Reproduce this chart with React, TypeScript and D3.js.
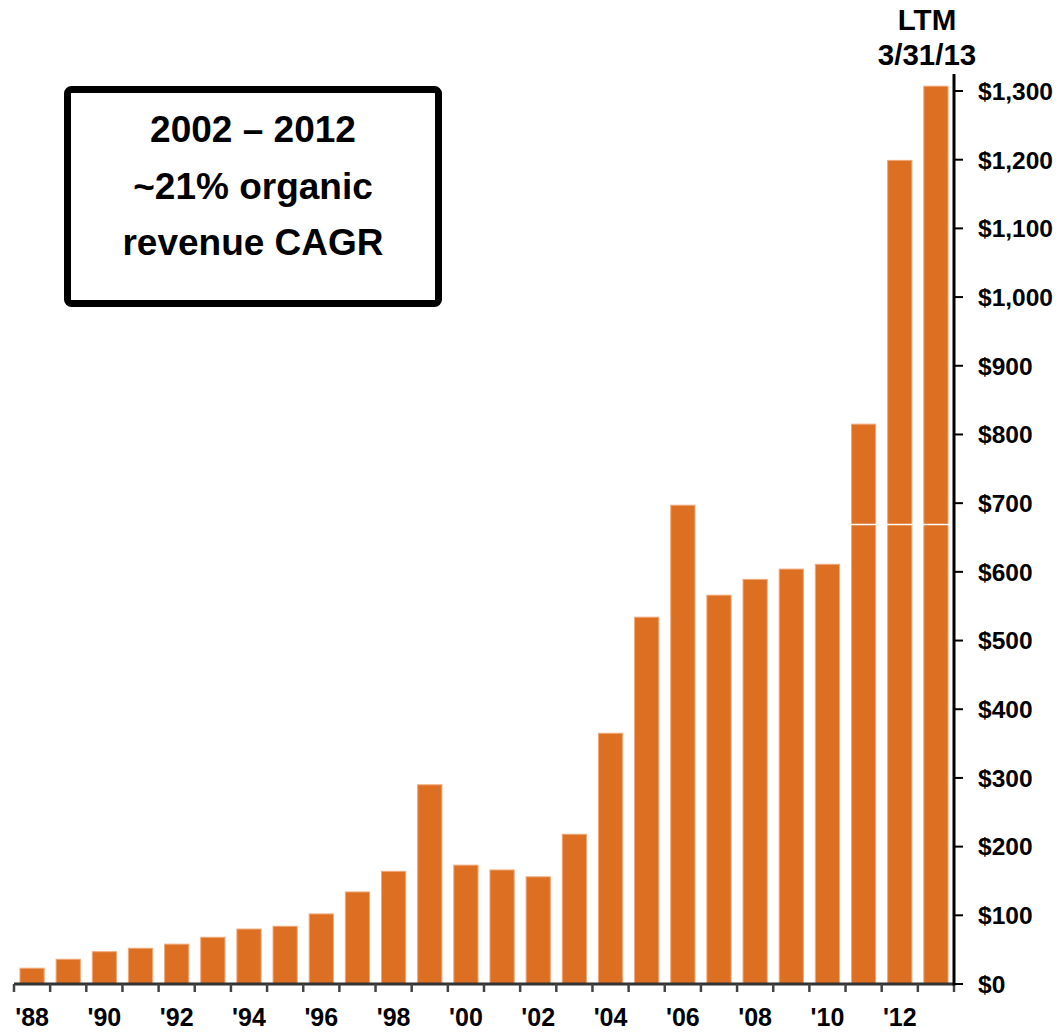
import React from "react";
import * as d3 from "d3";

const categories: string[] = [
  "1988", "1989", "1990", "1991", "1992", "1993", "1994", "1995", "1996", "1997",
  "1998", "1999", "2000", "2001", "2002", "2003", "2004", "2005", "2006", "2007",
  "2008", "2009", "2010", "2011", "2012", "LTM",
];
const revenue: number[] = [
  23, 36, 47, 52, 58, 68, 80, 84, 102, 134,
  164, 290, 173, 166, 156, 218, 365, 534, 697, 566,
  589, 604, 611, 815, 1199, 1307,
];
const xTickLabels: string[] = [
  "'88", "", "'90", "", "'92", "", "'94", "", "'96", "",
  "'98", "", "'00", "", "'02", "", "'04", "", "'06", "",
  "'08", "", "'10", "", "'12", "",
];
const yTicks: number[] = [0, 100, 200, 300, 400, 500, 600, 700, 800, 900, 1000, 1100, 1200, 1300];
const boxLines: string[] = ["2002 \u2013 2012", "~21% organic", "revenue CAGR"];
const ltmLines: string[] = ["LTM", "3/31/13"];

const W = 1062;
const H = 1032;
const FONT = "'Liberation Sans', Arial, Helvetica, sans-serif";

export default function App() {
  const pad = 0.33;
  const x = d3.scaleBand<string>().domain(categories).range([14, 954]).paddingInner(pad).paddingOuter(pad / 2);
  const y = d3.scaleLinear().domain([0, 1300]).range([984, 91]);
  const step = x.step();
  const boundaries = categories.map((c) => (x(c) as number) - (step * pad) / 2).concat([954]);
  const fmt = d3.format(",");

  return (
    <div style={{ position: "absolute", left: 0, top: 0, width: W, height: H, background: "#fff" }}>
      <svg width={W} height={H} style={{ display: "block" }} fontFamily={FONT}>
        {/* bars */}
        {categories.map((c, i) => (
          <rect
            key={c}
            x={x(c)}
            y={y(revenue[i])}
            width={x.bandwidth()}
            height={y(0) - y(revenue[i])}
            fill="#dd6f22"
            stroke="#f0a878"
            strokeWidth={1}
          />
        ))}
        {/* thin white artifact line */}
        <line x1={x("2011")! - 1} x2={957} y1={524.5} y2={524.5} stroke="#fff" strokeWidth={1.5} />
        {/* x axis */}
        <line x1={14} x2={954} y1={y(0)} y2={y(0)} stroke="#333" strokeWidth={3} />
        {boundaries.map((b, i) => (
          <line key={"t" + i} x1={b} x2={b} y1={y(0)} y2={y(0) + 8} stroke="#444" strokeWidth={2.5} />
        ))}
        {categories.map((c, i) =>
          xTickLabels[i] ? (
            <text
              key={"xl" + c}
              x={(x(c) as number) + x.bandwidth() / 2}
              y={1026}
              textAnchor="middle"
              fontSize={25}
              fontWeight="bold"
              fill="#000"
            >
              {xTickLabels[i]}
            </text>
          ) : null
        )}
        {/* y axis */}
        <line x1={954} x2={954} y1={74} y2={y(0) + 1.5} stroke="#000" strokeWidth={3} />
        {yTicks.map((t) => (
          <g key={"y" + t}>
            <line x1={954} x2={963} y1={y(t)} y2={y(t)} stroke="#000" strokeWidth={2} />
            <text x={978} y={y(t)} dy="0.36em" fontSize={24.5} fontWeight="bold" fill="#000">
              {"$" + fmt(t)}
            </text>
          </g>
        ))}
        {/* LTM label */}
        {ltmLines.map((l, i) => (
          <text key={"ltm" + i} x={927} y={30 + i * 35} textAnchor="middle" fontSize={29.5} fontWeight="bold" fill="#000">
            {l}
          </text>
        ))}
        {/* annotation box */}
        <rect x={67.5} y={89.5} width={371} height={214} rx={4} fill="#fff" stroke="#000" strokeWidth={7} />
        {boxLines.map((l, i) => (
          <text key={"b" + i} x={253} y={142 + i * 56.5} textAnchor="middle" fontSize={37} fontWeight="bold" fill="#000">
            {l}
          </text>
        ))}
      </svg>
    </div>
  );
}
